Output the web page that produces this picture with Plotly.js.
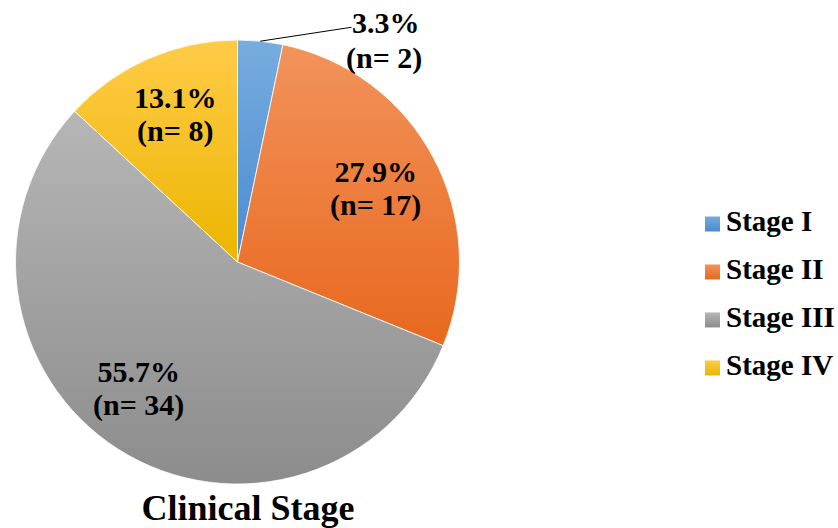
<!DOCTYPE html>
<html>
<head>
<meta charset="utf-8">
<script src="https://cdn.plot.ly/plotly-3.0.1.min.js"></script>
<style>html,body{margin:0;padding:0;background:#fff}</style>
</head>
<body>
<div id="chart" style="width:838px;height:528px"></div>
<script>
// Clinical stage distribution of the cohort
const stages = ['Stage I', 'Stage II', 'Stage III', 'Stage IV'];
const patients = [2, 17, 34, 8];

// vertical gradient fills per slice (top -> bottom)
const fillTop = ['#77acdf', '#f2935b', '#b6b6b6', '#ffcb48'];
const fillBottom = ['#4a8bd1', '#e8681e', '#8c8c8c', '#ebb600'];

const W = 838, H = 528;
const CX = 237.5, CY = 262, R = 222;
const FONT = 'Liberation Serif, Times New Roman, serif';

// label anchor points (px) for the slice labels
const labelPx = [[386, 22], [375, 188], [138, 388], [175, 114]];

const total = patients.reduce((a, b) => a + b, 0);
const pctText = patients.map(v => (v / total * 100).toFixed(1) + '%');
const nText = patients.map(v => '(n= ' + v + ')');

const px2x = px => px / W;
const py2y = py => 1 - py / H;
const sized = (s, px) => '<span style="font-size:' + px + 'px">' + s + '</span>';

const annotations = [];
// small slice: label outside with a leader line to the mid-angle of the slice
{
  const mid = (patients[0] / 2) / total * 2 * Math.PI;
  const ex = CX + R * Math.sin(mid), ey = CY - R * Math.cos(mid);
  annotations.push({
    xref: 'paper', yref: 'paper', x: px2x(ex), y: py2y(ey),
    ax: labelPx[0][0] - ex, ay: labelPx[0][1] - ey,
    text: pctText[0], showarrow: true, arrowhead: 0, arrowwidth: 1,
    arrowcolor: '#000', standoff: 0, borderpad: 0,
    font: {family: FONT, size: 30, weight: 'bold', color: '#000'}
  });
  annotations.push({
    xref: 'paper', yref: 'paper', x: px2x(384), y: py2y(58),
    xanchor: 'center', yanchor: 'middle', showarrow: false,
    text: nText[0],
    font: {family: FONT, size: 30, weight: 'bold', color: '#000'}
  });
}
for (let i = 1; i < patients.length; i++) {
  annotations.push({
    xref: 'paper', yref: 'paper',
    x: px2x(labelPx[i][0]), y: py2y(labelPx[i][1]),
    xanchor: 'center', yanchor: 'middle', showarrow: false,
    text: sized(pctText[i], 30) + '<br>' + sized(nText[i], 30),
    font: {family: FONT, size: 25.4, weight: 'bold', color: '#000'}
  });
}

const trace = {
  type: 'pie',
  labels: stages.map(s => sized(s, 29)),
  values: patients,
  sort: false,
  direction: 'clockwise',
  rotation: 0,
  textinfo: 'none',
  hoverinfo: 'label+value+percent',
  marker: {colors: fillBottom, line: {color: '#ffffff', width: 0.8}},
  domain: {x: [px2x(CX - R), px2x(CX + R)], y: [py2y(CY + R), py2y(CY - R)]}
};

const layout = {
  width: W, height: H,
  margin: {l: 0, r: 0, t: 0, b: 0, autoexpand: false},
  paper_bgcolor: '#ffffff',
  showlegend: true,
  legend: {
    x: px2x(686), xanchor: 'left', y: py2y(290), yanchor: 'middle',
    font: {family: FONT, size: 34.6, weight: 'bold', color: '#000'},
    bgcolor: 'rgba(0,0,0,0)'
  },
  title: {
    text: 'Clinical Stage',
    x: px2x(248), xanchor: 'center', y: py2y(507), yanchor: 'middle',
    font: {family: FONT, size: 36, weight: 'bold', color: '#000'}
  },
  annotations: annotations
};

function applyGradients(gd) {
  const ns = 'http://www.w3.org/2000/svg';
  const svg = gd.querySelector('svg.main-svg');
  let defs = svg.querySelector('defs');
  if (!defs) { defs = document.createElementNS(ns, 'defs'); svg.insertBefore(defs, svg.firstChild); }
  stages.forEach((s, i) => {
    const g = document.createElementNS(ns, 'linearGradient');
    g.setAttribute('id', 'stageFill' + i);
    g.setAttribute('x1', '0'); g.setAttribute('y1', '0');
    g.setAttribute('x2', '0'); g.setAttribute('y2', '1');
    [[0, fillTop[i]], [1, fillBottom[i]]].forEach(([o, c]) => {
      const st = document.createElementNS(ns, 'stop');
      st.setAttribute('offset', o);
      st.setAttribute('stop-color', c);
      g.appendChild(st);
    });
    defs.appendChild(g);
  });
  gd.querySelectorAll('g.slice').forEach((sl, k) => {
    const d = sl.__data__;
    const i = d && d.i !== undefined ? d.i : k;
    const p = sl.querySelector('path.surface');
    if (p) p.style.fill = 'url(#stageFill' + i + ')';
  });
  // legend swatches: 15px squares sitting level with the text
  gd.querySelectorAll('g.legend g.traces').forEach((t, k) => {
    const p = t.querySelector('path.legendpie');
    if (p) {
      p.setAttribute('d', 'M14,13.5H-1V-1.5H14Z');
      p.style.fill = 'url(#stageFill' + k + ')';
      p.style.strokeWidth = '0';
    }
  });
}

Plotly.newPlot('chart', [trace], layout, {displayModeBar: false, staticPlot: true})
  .then(applyGradients);
</script>
</body>
</html>
